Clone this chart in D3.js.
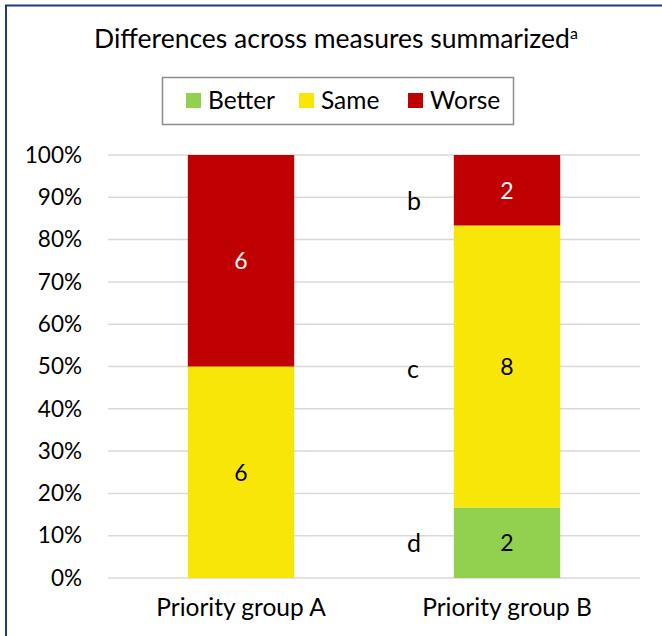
<!DOCTYPE html>
<html>
<head>
<meta charset="utf-8">
<script src="https://cdn.jsdelivr.net/npm/d3@7"></script>
<style>
  body { margin: 0; background: #fff; }
  svg text { font-family: Lato, "Open Sans", sans-serif; fill: #000; }
</style>
</head>
<body>
<div id="chart"></div>
<script>
// categories and counts per outcome
const groups = ["Priority group A", "Priority group B"];
const series = ["Better", "Same", "Worse"];
const better = [0, 2];
const same = [6, 8];
const worse = [6, 2];
const colors = ["#92D050", "#F8E608", "#C00000"];
const labelColors = ["#000", "#000", "#fff"];
const yTicks = [0, 10, 20, 30, 40, 50, 60, 70, 80, 90, 100];
// footnote letters beside group B, at percent height
const noteLetters = ["b", "c", "d"];
const notePct = [88.5, 48.7, 7.6];

const W = 662, H = 636;
const svg = d3.select("#chart").append("svg")
  .attr("width", W).attr("height", H);

// outer frame (runs off the right and bottom edges)
svg.append("rect")
  .attr("x", 6).attr("y", 5.5)
  .attr("width", W + 20).attr("height", H + 20)
  .attr("fill", "none")
  .attr("stroke", "#203a7a")
  .attr("stroke-width", 2);

// title
const title = svg.append("text")
  .attr("x", 336).attr("y", 48)
  .attr("text-anchor", "middle")
  .style("font-size", "26.5px");
title.append("tspan").text("Differences across measures summarized");
title.append("tspan").text("a")
  .style("font-size", "16px")
  .attr("dy", -9);

// legend
svg.append("rect")
  .attr("x", 162.5).attr("y", 77.5)
  .attr("width", 351).attr("height", 47)
  .attr("fill", "#fff")
  .attr("stroke", "#8c8c8c")
  .attr("stroke-width", 1.5);

const legendX = [186, 299, 408];
const legend = svg.append("g");
series.forEach((s, i) => {
  legend.append("rect")
    .attr("x", legendX[i]).attr("y", 93)
    .attr("width", 15).attr("height", 15)
    .attr("fill", colors[i]);
  legend.append("text")
    .attr("x", legendX[i] + 22).attr("y", 109)
    .style("font-size", "24.5px")
    .text(s);
});

// scales
const x = d3.scaleBand()
  .domain(groups)
  .range([108, 640])
  .paddingInner(0.6)
  .paddingOuter(0.3);

const y = d3.scaleLinear()
  .domain([0, 100])
  .range([578, 155]);

// gridlines
svg.append("g")
  .selectAll("line")
  .data(yTicks)
  .join("line")
  .attr("x1", 108).attr("x2", 640)
  .attr("y1", d => y(d)).attr("y2", d => y(d))
  .attr("stroke", "#d9d9d9")
  .attr("stroke-width", 1.5);

// y axis labels
const yAxis = d3.axisLeft(y)
  .tickValues(yTicks)
  .tickFormat(d => d + "%")
  .tickSize(0)
  .tickPadding(26);
const yg = svg.append("g")
  .attr("transform", "translate(108,0)")
  .call(yAxis);
yg.select(".domain").remove();
yg.selectAll("text")
  .style("font-size", "22.5px")
  .style("font-family", "Lato, sans-serif")
  .attr("fill", "#000");

// stacked data
const rows = groups.map((g, i) => ({ group: g, Better: better[i], Same: same[i], Worse: worse[i] }));
const stack = d3.stack().keys(series).offset(d3.stackOffsetExpand);
const layers = stack(rows);

const layerG = svg.append("g")
  .selectAll("g")
  .data(layers)
  .join("g")
  .attr("fill", (d, i) => colors[i]);

layerG.selectAll("rect")
  .data(d => d)
  .join("rect")
  .attr("x", d => x(d.data.group))
  .attr("width", x.bandwidth())
  .attr("y", d => y(d[1] * 100))
  .attr("height", d => y(d[0] * 100) - y(d[1] * 100));

// value labels inside segments
layers.forEach((layer, i) => {
  svg.append("g")
    .selectAll("text")
    .data(layer.filter(d => d.data[layer.key] > 0))
    .join("text")
    .attr("x", d => x(d.data.group) + x.bandwidth() / 2)
    .attr("y", d => y((d[0] + d[1]) / 2 * 100))
    .attr("dy", "0.36em")
    .attr("text-anchor", "middle")
    .style("font-size", "23px")
    .style("fill", labelColors[i])
    .text(d => d.data[layer.key]);
});

// footnote letters
svg.append("g")
  .selectAll("text")
  .data(noteLetters)
  .join("text")
  .attr("x", 407)
  .attr("y", (d, i) => y(notePct[i]))
  .attr("dy", "0.25em")
  .style("font-size", "25px")
  .text(d => d);

// x axis labels
svg.append("g")
  .selectAll("text")
  .data(groups)
  .join("text")
  .attr("x", d => x(d) + x.bandwidth() / 2)
  .attr("y", 616)
  .attr("text-anchor", "middle")
  .style("font-size", "24.5px")
  .text(d => d);
</script>
</body>
</html>
